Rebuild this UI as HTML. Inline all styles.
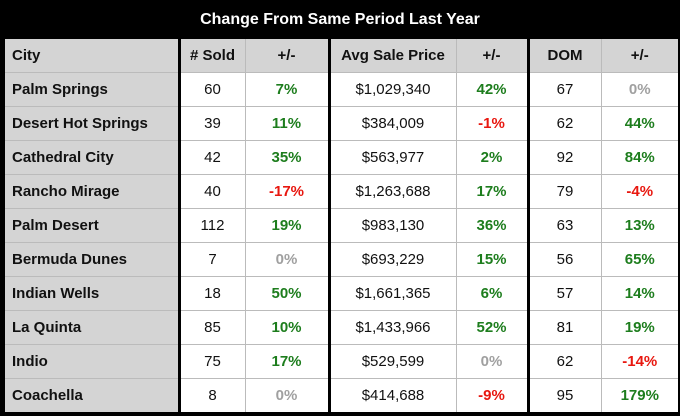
<!DOCTYPE html>
<html><head><meta charset="utf-8"><style>
html,body{margin:0;padding:0;background:#000;width:680px;height:416px;overflow:hidden}
#title{position:absolute;left:0;top:0;width:680px;height:37px;text-align:center;color:#fff;font:bold 16px "Liberation Sans",sans-serif;line-height:39px}
table{position:absolute;left:3px;top:37px;width:675px;border-collapse:collapse;table-layout:fixed;font:15px "Liberation Sans",sans-serif;color:#111;border:2px solid #000}
td,th{height:33px;padding:0;border:1px solid #bbb;text-align:center;background:#fff}
th{background:#d4d4d4;font-weight:bold;font-size:15px}
td.c,th.c{text-align:left;padding-left:7px;background:#d4d4d4;font-weight:bold;border-right:3px solid #000}
.s{border-left:3px solid #000}
.g{color:#1d7d1d;font-weight:bold}.r{color:#e8170f;font-weight:bold}.z{color:#a0a0a0;font-weight:bold}
</style></head><body>
<div id="title">Change From Same Period Last Year</div>
<table>
<colgroup><col style="width:175px"><col style="width:66px"><col style="width:84px"><col style="width:127px"><col style="width:72px"><col style="width:73px"><col style="width:78px"></colgroup>
<tr><th class="c">City</th><th># Sold</th><th>+/-</th><th class="s">Avg Sale Price</th><th>+/-</th><th class="s">DOM</th><th>+/-</th></tr>
<tr><td class="c">Palm Springs</td><td>60</td><td class="g">7%</td><td class="s">$1,029,340</td><td class="g">42%</td><td class="s">67</td><td class="z">0%</td></tr>
<tr><td class="c">Desert Hot Springs</td><td>39</td><td class="g">11%</td><td class="s">$384,009</td><td class="r">-1%</td><td class="s">62</td><td class="g">44%</td></tr>
<tr><td class="c">Cathedral City</td><td>42</td><td class="g">35%</td><td class="s">$563,977</td><td class="g">2%</td><td class="s">92</td><td class="g">84%</td></tr>
<tr><td class="c">Rancho Mirage</td><td>40</td><td class="r">-17%</td><td class="s">$1,263,688</td><td class="g">17%</td><td class="s">79</td><td class="r">-4%</td></tr>
<tr><td class="c">Palm Desert</td><td>112</td><td class="g">19%</td><td class="s">$983,130</td><td class="g">36%</td><td class="s">63</td><td class="g">13%</td></tr>
<tr><td class="c">Bermuda Dunes</td><td>7</td><td class="z">0%</td><td class="s">$693,229</td><td class="g">15%</td><td class="s">56</td><td class="g">65%</td></tr>
<tr><td class="c">Indian Wells</td><td>18</td><td class="g">50%</td><td class="s">$1,661,365</td><td class="g">6%</td><td class="s">57</td><td class="g">14%</td></tr>
<tr><td class="c">La Quinta</td><td>85</td><td class="g">10%</td><td class="s">$1,433,966</td><td class="g">52%</td><td class="s">81</td><td class="g">19%</td></tr>
<tr><td class="c">Indio</td><td>75</td><td class="g">17%</td><td class="s">$529,599</td><td class="z">0%</td><td class="s">62</td><td class="r">-14%</td></tr>
<tr><td class="c">Coachella</td><td>8</td><td class="z">0%</td><td class="s">$414,688</td><td class="r">-9%</td><td class="s">95</td><td class="g">179%</td></tr>
</table>
</body></html>
